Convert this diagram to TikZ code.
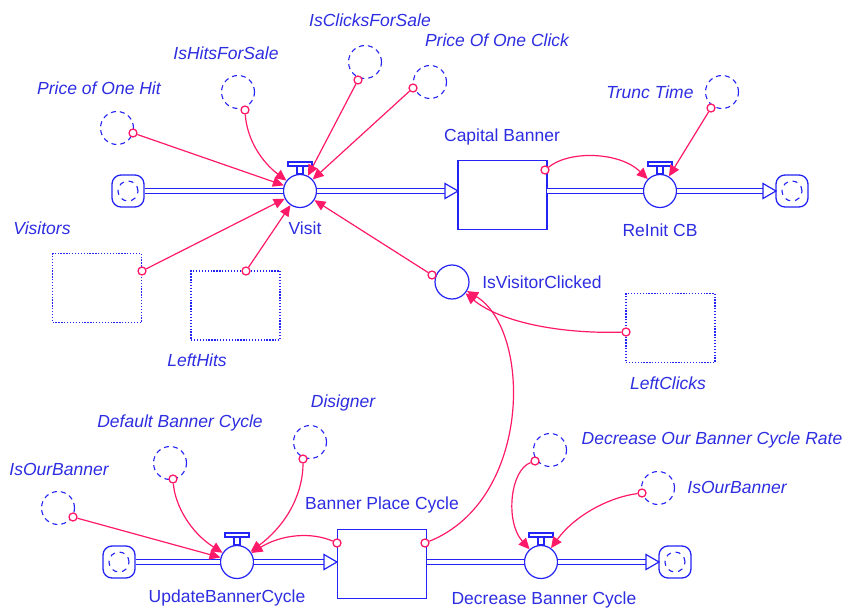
\documentclass[tikz,border=0pt]{standalone}
\usepackage{fontspec}
\setmainfont{Liberation Sans}
\usetikzlibrary{arrows.meta, calc}
\definecolor{sdblue}{RGB}{35,35,245}
\definecolor{sdtext}{RGB}{45,45,225}
\definecolor{sdpink}{RGB}{255,25,105}

\begin{document}
\begin{tikzpicture}[x=1pt, y=-1pt,
    every node/.style={font=\fontsize{17.5}{20}\selectfont, text=sdtext},
    flowline/.style={draw=sdblue, line width=1.2pt},
    pipe/.style={draw=sdblue, line width=1.1pt, double=white, double distance=3.4pt},
    valve/.style={circle, draw=sdblue, line width=1.2pt, fill=white, minimum size=33pt, inner sep=0pt},
    conv/.style={circle, draw=sdblue, line width=1.2pt, fill=white, minimum size=34pt, inner sep=0pt},
    stock/.style={rectangle, draw=sdblue, line width=1.4pt, fill=white, minimum width=89pt, minimum height=69pt, inner sep=0pt},
    aux/.style={circle, draw=sdblue, line width=1.1pt, dash pattern=on 5pt off 4pt, minimum size=33pt, inner sep=0pt},
    ghost/.style={rectangle, draw=sdblue, line width=1.3pt, dash pattern=on 1.3pt off 1.6pt, minimum width=89pt, minimum height=69pt, inner sep=0pt},
    cloud/.style={rectangle, rounded corners=9pt, draw=sdblue, line width=1.3pt, fill=white, minimum size=32pt, inner sep=0pt},
    tap/.style={circle, draw=sdpink, line width=1.3pt, fill=white, minimum size=8pt, inner sep=0pt},
    link/.style={draw=sdpink, line width=1.2pt, -{Triangle[length=11pt, width=10pt]}},
    lbl/.style={inner sep=1pt},
    ilbl/.style={inner sep=1pt, font=\fontsize{17.5}{20}\selectfont\itshape},
]
\useasboundingbox (0,0) rectangle (852,610);

% clouds
\node[cloud] (src1) at (128,191) {};
\node[cloud] (snk1) at (792,191) {};
\node[cloud] (src2) at (119,562) {};
\node[cloud] (snk2) at (675,562) {};
\foreach \c in {src1,snk1,src2,snk2}
    \draw[sdblue, line width=1.1pt, dash pattern=on 5pt off 5pt] (\c) circle (10pt);

% stocks
\node[stock] (cb) at (502.5,195) {};
\node[stock] (bpc) at (382,564) {};
\coordinate (cb-in) at (458,191);
\coordinate (cb-out) at (547,191);
\coordinate (snk1-in) at (776,191);
\coordinate (bpc-in) at (337,562);
\coordinate (bpc-out) at (427,562);
\coordinate (snk2-in) at (659,562);

% valves
\node[valve] (visit) at (300,191) {};
\node[valve] (reinit) at (660,191) {};
\node[valve] (update) at (237,562) {};
\node[valve] (decr) at (541,562) {};

% pipes
\draw[pipe] (src1) -- (visit);
\draw[pipe] (visit) -- ([xshift=-13pt]cb-in);
\draw[pipe] (cb-out) -- (reinit);
\draw[pipe] (reinit) -- ([xshift=-13pt]snk1-in);
\draw[pipe] (src2) -- (update);
\draw[pipe] (update) -- ([xshift=-13pt]bpc-in);
\draw[pipe] (bpc-out) -- (decr);
\draw[pipe] (decr) -- ([xshift=-13pt]snk2-in);
\foreach \t in {cb-in,snk1-in,bpc-in,snk2-in}
    \draw[flowline, fill=white, line join=miter] (\t) -- ++(-13,-7.5) -- ++(0,15) -- cycle;
\foreach \v in {visit,reinit,update,decr} {
    \draw[flowline, fill=white] ([xshift=-3pt]\v.north) rectangle ([xshift=3pt, yshift=8pt]\v.north);
    \draw[flowline, fill=white] ([xshift=-12pt, yshift=8pt]\v.north) rectangle ([xshift=12pt, yshift=12pt]\v.north);
}

% auxiliaries
\node[aux] (hit) at (117,128) {};
\node[aux] (hits) at (238,92) {};
\node[aux] (clicks) at (365,62) {};
\node[aux] (click) at (430,82) {};
\node[aux] (trunc) at (722,92) {};
\node[aux] (our1) at (58,508) {};
\node[aux] (dbc) at (170,463) {};
\node[aux] (dis) at (310,442) {};
\node[aux] (dobcr) at (550,450) {};
\node[aux] (our2) at (658,488) {};
\node[conv] (ivc) at (452,282) {};
\node[ghost] (vis) at (97,288) {};
\node[ghost] (lh) at (235.5,305.5) {};
\node[ghost] (lc) at (670.5,328) {};

% taps
\node[tap] (hit-o) at (133,133) {};
\node[tap] (hits-o) at (245,110) {};
\node[tap] (clicks-o) at (358,80) {};
\node[tap] (click-o) at (413,88) {};
\node[tap] (trunc-o) at (711,108) {};
\node[tap] (our1-o) at (73,517) {};
\node[tap] (dbc-o) at (173,479) {};
\node[tap] (dis-o) at (303,459) {};
\node[tap] (dobcr-o) at (535,461) {};
\node[tap] (our2-o) at (642,493) {};
\node[tap] (ivc-o) at (432,275) {};
\node[tap] (vis-o) at (142,271) {};
\node[tap] (lh-o) at (246,271) {};
\node[tap] (lc-o) at (626,332) {};
\node[tap] (cb-o) at (545,170) {};
\node[tap] (bpc-o1) at (337,543) {};
\node[tap] (bpc-o2) at (425,543) {};

% links
\draw[link] (hit-o) -- (visit);
\draw[link] (hits-o) .. controls (247,140) and (262,162) .. (visit);
\draw[link] (clicks-o) -- (visit);
\draw[link] (click-o) -- (visit);
\draw[link] (vis-o) -- (visit);
\draw[link] (lh-o) -- (visit);
\draw[link] (ivc-o) -- (visit);
\draw[link] (cb-o) .. controls (570,150) and (620,152) .. (reinit);
\draw[link] (trunc-o) -- (reinit);
\draw[link] (lc-o) .. controls (560,334) and (500,322) .. (ivc);
\draw[link] (bpc-o2) .. controls (532,500) and (532,330) .. (ivc);
\draw[link] (our1-o) -- (update);
\draw[link] (dbc-o) .. controls (175,505) and (190,532) .. (update);
\draw[link] (dis-o) .. controls (303,490) and (290,522) .. (update);
\draw[link] (bpc-o1) .. controls (312,532) and (282,534) .. (update);
\draw[link] (dobcr-o) .. controls (510,470) and (505,522) .. (decr);
\draw[link] (our2-o) .. controls (610,497) and (575,515) .. (decr);

% labels
\node[ilbl] (hit-l) at (99,88) {Price of One Hit};
\node[ilbl] (hits-l) at (226,53) {IsHitsForSale};
\node[ilbl] (clicks-l) at (370,20) {IsClicksForSale};
\node[ilbl] (click-l) at (497,40) {Price Of One Click};
\node[ilbl] (trunc-l) at (650,92) {Trunc Time};
\node[lbl] (cb-l) at (502,137) {Capital Banner};
\node[lbl] (visit-l) at (305,228) {Visit};
\node[lbl] (reinit-l) at (660,230) {ReInit CB};
\node[ilbl] (vis-l) at (42,228) {Visitors};
\node[ilbl] (lh-l) at (197,360) {LeftHits};
\node[lbl] (ivc-l) at (542,282) {IsVisitorClicked};
\node[ilbl] (lc-l) at (668,383) {LeftClicks};
\node[ilbl] (dbc-l) at (180,423) {Default Banner Cycle};
\node[ilbl] (dis-l) at (343,403) {Disigner};
\node[ilbl] (dobcr-l) at (712,440) {Decrease Our Banner Cycle Rate};
\node[ilbl] (our1-l) at (59,469) {IsOurBanner};
\node[ilbl] (our2-l) at (737,487) {IsOurBanner};
\node[lbl] (bpc-l) at (382,505) {Banner Place Cycle};
\node[lbl] (update-l) at (227,598) {UpdateBannerCycle};
\node[lbl] (decr-l) at (544,600) {Decrease Banner Cycle};
\end{tikzpicture}
\end{document}
